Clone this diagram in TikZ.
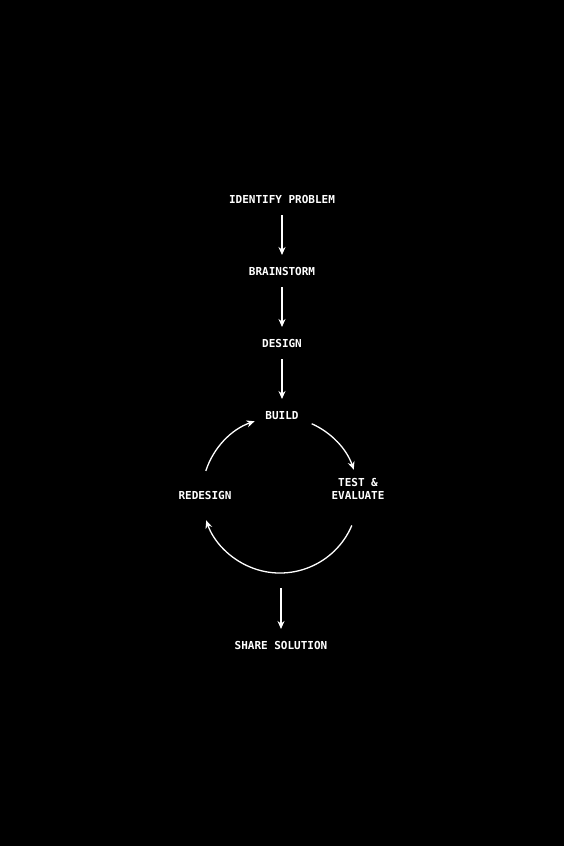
\documentclass[tikz,border=0pt]{standalone}
\usepackage{fontspec}
\setmonofont{DejaVu Sans Mono}
\usetikzlibrary{positioning,arrows.meta,calc}

\tikzset{
  phase/.style={font=\ttfamily\bfseries\fontsize{11}{12.5}\selectfont, text=white,
    text height=8pt, text depth=0pt, inner xsep=0pt, inner ysep=12pt,
    outer sep=0pt, align=center},
  flow/.style={->, draw=white, line width=1.3pt}
}

\begin{document}
\begin{tikzpicture}[x=1pt,y=-1pt,>={Stealth[length=8pt,width=7pt]},node distance=40pt]
    \fill[black] (0,0) rectangle (564,846);
    \useasboundingbox (0,0) rectangle (564,846);

    % straight run down to the loop
    \node[phase] (ident) at (282,199) {IDENTIFY PROBLEM};
    \node[phase, below=of ident] (brain) {BRAINSTORM};
    \node[phase, below=of brain] (design) {DESIGN};
    \node[phase, below=of design] (build) {BUILD};
    \draw[flow] (ident) -- (brain);
    \draw[flow] (brain) -- (design);
    \draw[flow] (design) -- (build);

    % the loop
    \coordinate (hub) at ($(build)+(-2,80)$);
    \node[phase] (test) at ($(hub)+(78,0)$) {TEST \&\\EVALUATE};
    \node[phase] (redesign) at ($(hub)+(-75,0)$) {REDESIGN};
    \coordinate (r1) at ($(hub)+(162:78pt)$);
    \coordinate (b1) at ($(hub)+(66:78pt)$);
    \coordinate (t1) at ($(hub)+(-23:78pt)$);
    \draw[flow] (r1) arc[start angle=162, end angle=109, radius=78pt];
    \draw[flow] (b1) arc[start angle=66, end angle=19, radius=78pt];
    \draw[flow] (t1) arc[start angle=-23, end angle=-161, radius=78pt];

    % way out
    \coordinate (exit) at ($(hub)+(1,93)$);
    \node[phase] (share) at ($(hub)+(1,150)$) {SHARE SOLUTION};
    \draw[flow] (exit) -- (share);
\end{tikzpicture}
\end{document}
